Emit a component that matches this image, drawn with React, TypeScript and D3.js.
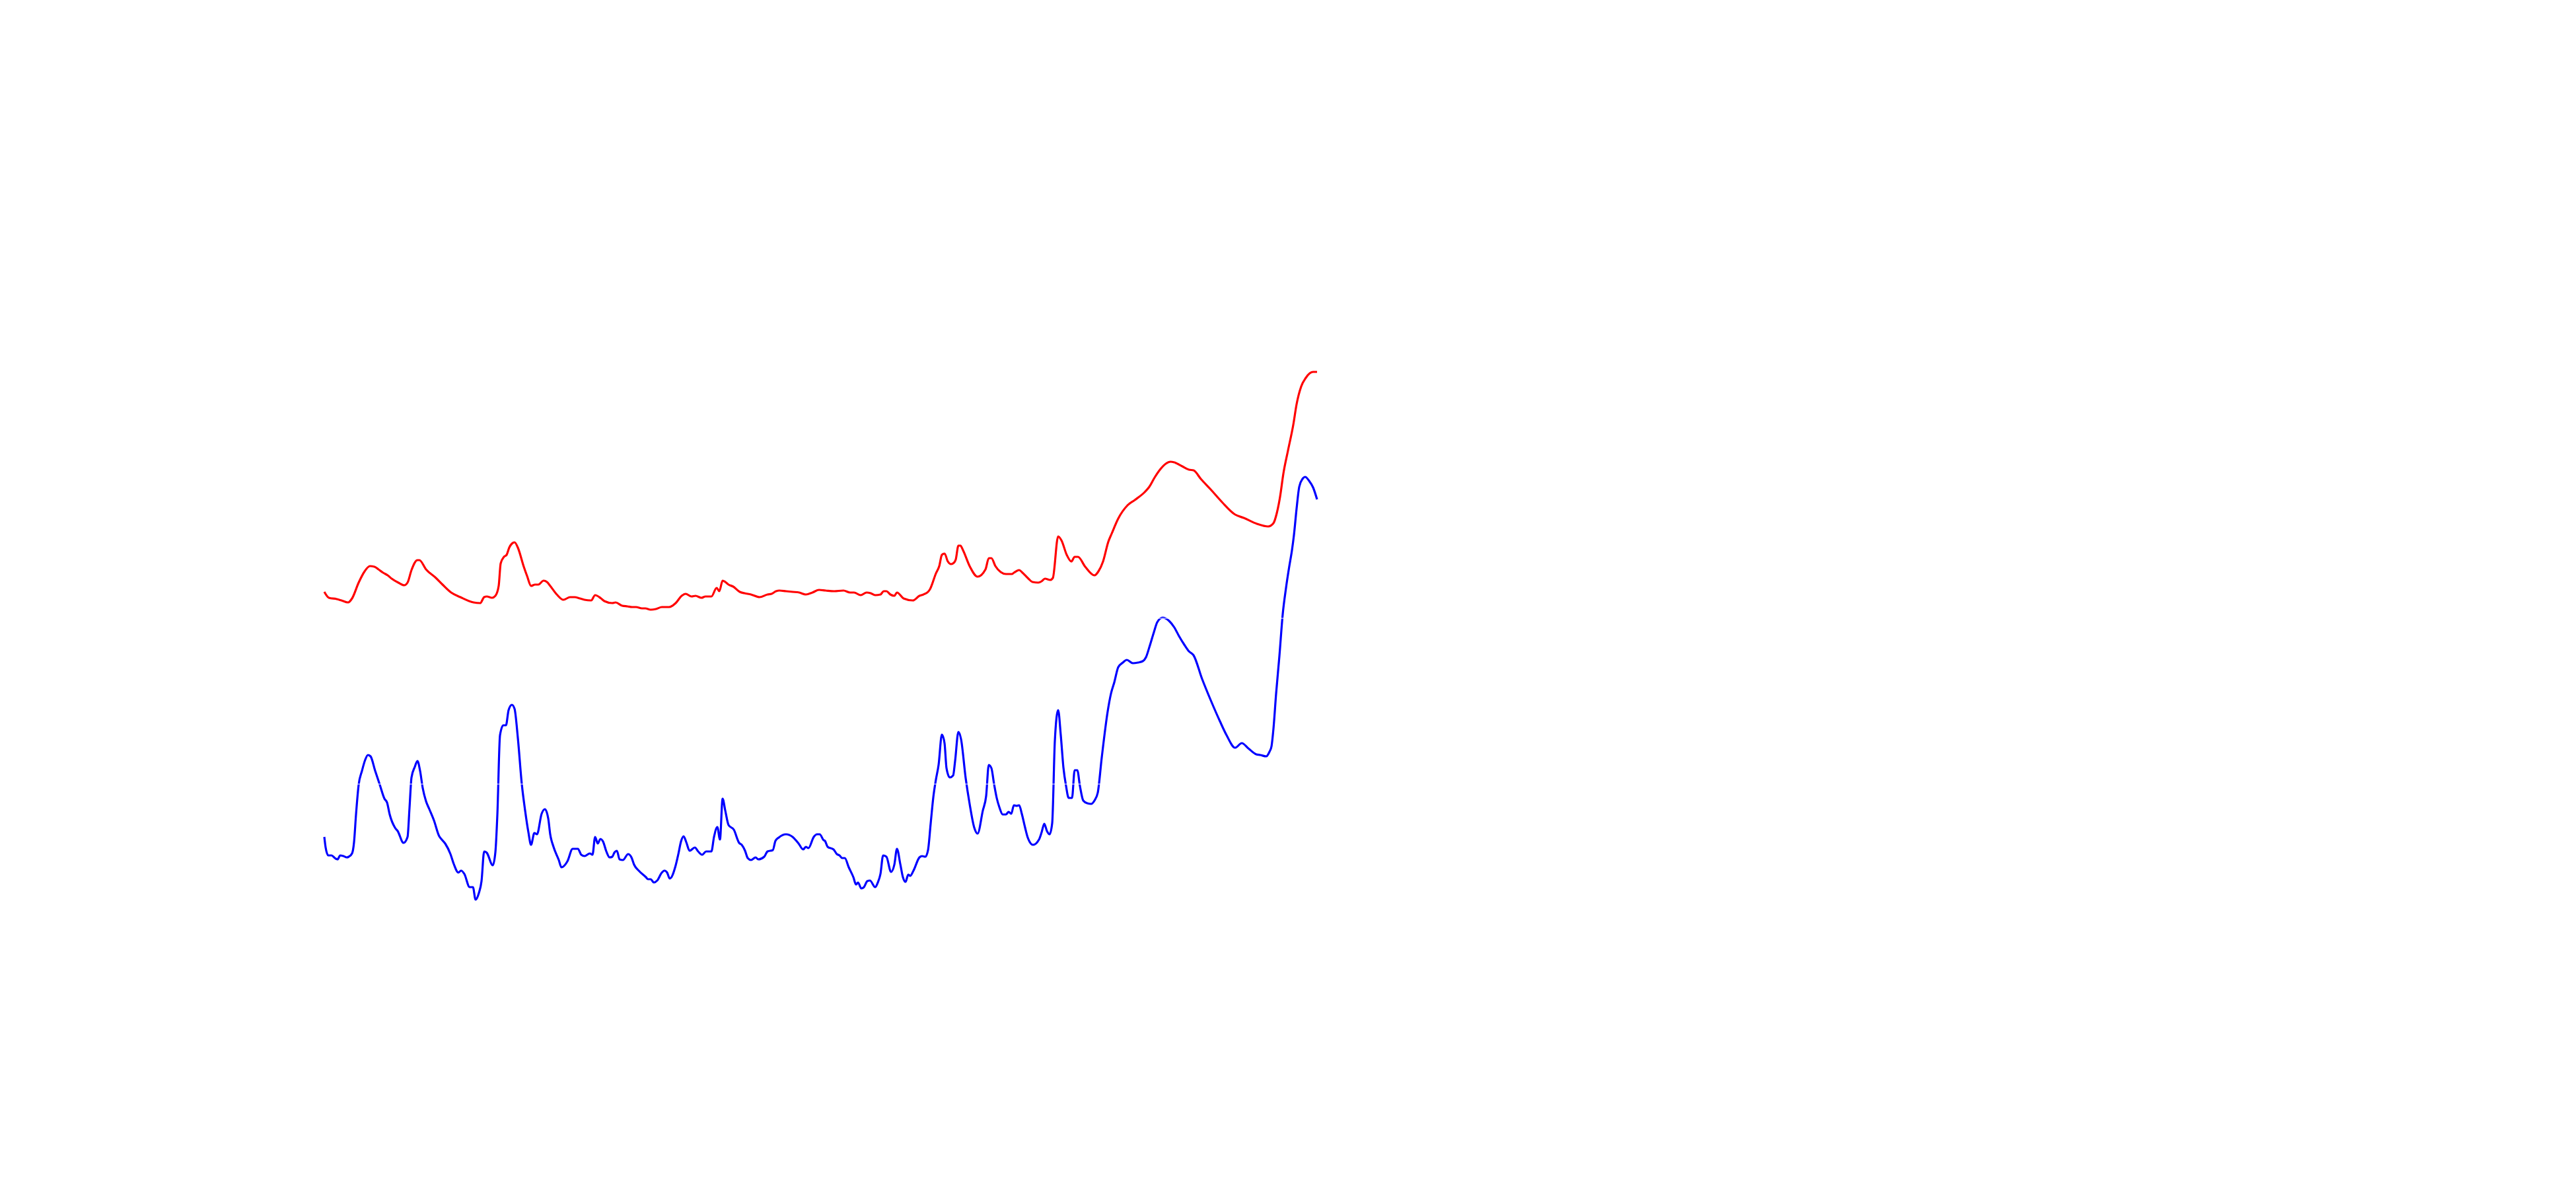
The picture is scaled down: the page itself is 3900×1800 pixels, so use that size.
import React from "react";
import * as d3 from "d3";

// Red series: [x, value]
const redSeries: [number, number][] = [
  [0, 60.4], [1.4, 59.5], [3.8, 59.3], [5.2, 59.1], [7.2, 58.8], [8.4, 59.4], [10.4, 61.8], [12.2, 63.5],
  [13.8, 64.3], [15.2, 64.2], [16.4, 63.8], [17.8, 63.3], [19.2, 62.9], [20.4, 62.4], [22.4, 61.8], [24.2, 61.4],
  [25.2, 61.8], [26.4, 63.7], [28.2, 65.2], [28.8, 65.2], [30.8, 63.8], [33.8, 62.5], [35.8, 61.5], [38.4, 60.3],
  [41.2, 59.6], [45.2, 58.8], [47.2, 58.7], [48.4, 59.6], [49.2, 59.7], [50.8, 59.5], [51.8, 59.8], [52.8, 61.3],
  [53.4, 64.7], [54.4, 65.7], [55.2, 66.0], [56.0, 67.1], [56.8, 67.7], [57.6, 67.9], [58.6, 67.1], [60.4, 64.2],
  [61.4, 62.8], [62.6, 61.3], [63.8, 61.5], [64.8, 61.5], [66.4, 62.1], [67.4, 61.9], [68.4, 61.3], [70.4, 60.0],
  [72.4, 59.2], [74.4, 59.6], [75.8, 59.6], [77.4, 59.4], [78.8, 59.2], [80.8, 59.1], [82.0, 59.9], [83.8, 59.4],
  [84.8, 59.0], [87.2, 58.7], [88.2, 58.8], [90.2, 58.3], [91.8, 58.2], [93.2, 58.1], [94.4, 58.1], [96.2, 57.9],
  [97.2, 57.9], [98.8, 57.7], [100.4, 57.8], [102.2, 58.1], [104.4, 58.1], [106.4, 58.7], [108.2, 59.8], [109.4, 60.1],
  [111.2, 59.7], [112.4, 59.8], [114.2, 59.5], [115.4, 59.7], [117.2, 59.7], [118.8, 61.0], [119.6, 60.5], [120.6, 62.1],
  [121.4, 61.9], [122.4, 61.5], [123.8, 61.2], [125.8, 60.4], [127.2, 60.2], [129.2, 60.0], [131.8, 59.6], [134.2, 60.0],
  [135.4, 60.1], [136.8, 60.5], [137.8, 60.6], [139.8, 60.5], [141.8, 60.4], [143.8, 60.3], [145.8, 60.0], [147.8, 60.3],
  [149.8, 60.7], [151.8, 60.6], [154.4, 60.5], [157.2, 60.6], [159.2, 60.3], [160.4, 60.3], [162.4, 59.9], [164.2, 60.3],
  [165.4, 60.2], [166.8, 59.9], [168.4, 60.0], [169.4, 60.5], [170.2, 60.5], [171.4, 60.0], [172.6, 59.8], [173.4, 60.3],
  [175.4, 59.4], [178.2, 59.1], [180.2, 59.8], [181.4, 60.0], [182.8, 60.4], [183.4, 60.8], [185.2, 63.2], [186.2, 64.3],
  [187.0, 66.0], [187.8, 66.2], [188.8, 65.0], [189.8, 64.6], [190.6, 64.8], [191.2, 65.3], [192.0, 67.4], [192.6, 67.4],
  [193.4, 66.7], [195.4, 64.3], [197.8, 62.7], [200.2, 63.8], [201.2, 65.5], [202.0, 65.5], [203.2, 64.3], [204.8, 63.4],
  [206.4, 63.1], [208.2, 63.1], [208.8, 63.3], [210.4, 63.7], [211.4, 63.3], [213.2, 62.4], [214.4, 61.9], [216.2, 61.8],
  [217.2, 62.0], [218.2, 62.4], [219.8, 62.2], [220.6, 62.5], [222.2, 68.8], [223.2, 68.2], [224.8, 66.0], [226.2, 65.0],
  [227.2, 65.7], [228.2, 65.7], [230.4, 64.2], [233.2, 62.9], [234.4, 63.5], [235.8, 65.0], [237.4, 68.0], [238.4, 69.2],
  [240.4, 71.5], [243.2, 73.5], [245.4, 74.3], [248.4, 75.5], [249.8, 76.3], [251.4, 77.7], [253.2, 79.0], [254.8, 79.8],
  [256.2, 80.1], [257.4, 80.0], [259.8, 79.4], [261.8, 78.9], [263.2, 78.8], [265.4, 77.5], [268.4, 75.9], [271.8, 74.0],
  [275.8, 72.1], [278.4, 71.6], [282.4, 70.7], [285.8, 70.3], [287.4, 70.8], [288.4, 72.3], [289.4, 74.8], [290.4, 78.3],
  [291.8, 81.8], [293.4, 85.7], [294.4, 88.8], [295.8, 91.5], [297.2, 92.8], [298.4, 93.5], [299.4, 93.7], [300.6, 93.7],
];

// Blue series: [x, value]
const blueSeries: [number, number][] = [
  [0, 23.3], [0.4, 21.7], [1.2, 20.5], [2.2, 20.5], [3.2, 20.1], [4.0, 19.9], [4.8, 20.5], [5.8, 20.4],
  [6.8, 20.2], [7.4, 20.3], [8.4, 20.8], [9.0, 22.5], [9.6, 26.7], [10.4, 31.2], [11.4, 33.3], [12.4, 35.0],
  [13.2, 35.7], [14.0, 35.5], [15.4, 33.3], [16.8, 31.2], [18.2, 29.1], [19.0, 28.5], [19.8, 26.7], [21.4, 24.7],
  [22.2, 24.2], [24.0, 22.4], [25.2, 23.3], [25.8, 27.7], [26.4, 32.3], [27.4, 33.9], [28.2, 34.8], [29.0, 33.3],
  [29.8, 30.7], [30.8, 28.7], [31.8, 27.5], [33.2, 25.8], [34.8, 23.4], [35.4, 23.0], [36.6, 22.3], [38.2, 20.7],
  [39.2, 19.2], [40.6, 17.9], [41.4, 18.2], [42.4, 17.7], [44.0, 15.7], [45.0, 15.7], [45.8, 13.8], [46.8, 14.8],
  [47.6, 16.6], [48.4, 21.1], [49.2, 20.9], [51.0, 19.0], [51.8, 21.0], [52.4, 26.7], [53.2, 38.7], [54.2, 40.2],
  [55.0, 40.2], [55.8, 42.5], [56.8, 43.3], [57.6, 42.7], [58.6, 38.3], [59.8, 31.3], [60.8, 27.3], [61.8, 24.0],
  [62.6, 22.1], [63.6, 23.9], [64.4, 23.7], [65.8, 26.8], [66.8, 27.5], [67.8, 26.1], [68.4, 23.7], [69.4, 21.8],
  [71.0, 19.8], [71.8, 18.7], [73.6, 19.6], [75.2, 21.5], [76.8, 21.5], [77.8, 20.6], [78.8, 20.4], [80.4, 20.8],
  [81.2, 20.6], [82.0, 23.3], [82.8, 22.3], [83.6, 23.0], [84.4, 22.6], [85.4, 21.1], [86.4, 20.2], [87.2, 20.3],
  [87.8, 20.9], [88.6, 21.2], [89.4, 19.9], [90.4, 19.8], [92.0, 20.7], [93.0, 20.2], [93.8, 19.1], [95.2, 18.2],
  [97.4, 17.2], [98.0, 16.9], [98.8, 16.9], [99.8, 16.4], [100.8, 16.7], [102.2, 17.9], [103.0, 18.2], [103.8, 17.9],
  [104.6, 17.0], [106.4, 19.0], [107.2, 20.7], [108.0, 22.6], [108.8, 23.4], [109.6, 22.5], [110.6, 21.2], [112.2, 21.7],
  [113.2, 21.1], [114.4, 20.6], [115.6, 21.1], [117.2, 21.1], [118.0, 23.3], [119.0, 24.8], [119.8, 22.9], [120.6, 29.1],
  [121.4, 27.3], [122.4, 25.1], [124.0, 24.4], [125.6, 22.4], [126.4, 22.1], [127.4, 21.2], [128.2, 20.1], [129.2, 19.8],
  [130.6, 20.2], [131.4, 19.9], [133.2, 20.3], [134.2, 21.1], [135.8, 21.3], [136.6, 22.7], [137.6, 23.2], [139.8, 23.7],
  [141.8, 23.3], [143.6, 22.3], [145.0, 21.4], [145.8, 21.8], [146.6, 21.6], [148.2, 23.3], [149.2, 23.7], [150.0, 23.7],
  [151.2, 22.8], [151.6, 22.7], [152.4, 21.8], [154.2, 21.4], [155.2, 20.7], [156.0, 20.5], [156.8, 20.1], [157.6, 20.1],
  [158.8, 18.7], [160.2, 17.2], [161.0, 16.1], [161.6, 16.4], [162.6, 15.5], [163.4, 15.7], [164.4, 16.6], [165.2, 16.7],
  [166.8, 15.7], [167.6, 16.4], [168.4, 17.7], [169.2, 20.5], [170.2, 20.3], [171.6, 18.0], [172.6, 19.1], [173.4, 21.5],
  [174.4, 19.2], [175.2, 17.2], [176.0, 16.5], [176.8, 17.6], [177.4, 17.4], [178.4, 18.2], [180.2, 20.2], [181.0, 20.4],
  [182.0, 20.3], [182.8, 21.3], [183.6, 25.3], [184.4, 29.3], [185.2, 32.0], [186.0, 34.2], [187.0, 38.8], [187.8, 37.5],
  [188.4, 33.7], [189.4, 32.3], [190.4, 32.6], [191.0, 34.8], [192.0, 39.2], [192.8, 38.1], [194.2, 32.2], [195.4, 28.3],
  [196.8, 24.7], [197.8, 23.8], [199.4, 27.3], [200.4, 29.5], [201.2, 34.2], [202.0, 33.7], [202.8, 31.3], [203.6, 29.2],
  [204.4, 27.8], [205.4, 26.7], [206.4, 26.7], [207.2, 27.1], [208.0, 26.8], [208.8, 28.1], [209.6, 28.0], [210.4, 28.1],
  [211.2, 26.8], [212.2, 24.7], [213.0, 23.2], [214.6, 22.1], [216.4, 22.9], [217.2, 24.0], [218.0, 25.3], [218.8, 24.2],
  [219.6, 23.7], [220.4, 25.4], [221.2, 37.8], [222.2, 42.5], [223.0, 38.7], [223.8, 33.8], [224.6, 31.0], [225.4, 29.2],
  [226.4, 29.2], [227.2, 33.4], [228.0, 33.4], [228.8, 31.0], [229.8, 28.8], [231.0, 28.4], [232.2, 28.3], [233.2, 28.8],
  [234.2, 30.0], [235.4, 35.3], [237.2, 42.3], [238.2, 45.0], [239.2, 46.7], [240.4, 49.0], [241.8, 49.7], [243.0, 50.1],
  [244.8, 49.6], [246.4, 49.7], [247.8, 49.9], [248.8, 50.5], [249.8, 52.0], [251.2, 54.3], [252.2, 55.8], [253.8, 56.5],
  [255.8, 56.0], [257.4, 55.0], [258.8, 53.7], [260.4, 52.4], [261.8, 51.4], [263.2, 50.8], [265.8, 47.2], [268.4, 44.0],
  [271.2, 40.8], [273.2, 38.7], [275.8, 36.8], [277.8, 37.5], [279.8, 36.7], [282.2, 35.8], [283.4, 35.7], [285.2, 35.5],
  [286.2, 36.2], [286.8, 37.0], [287.4, 39.7], [288.2, 45.0], [289.2, 50.7], [290.2, 57.0], [291.2, 61.0], [292.2, 64.3],
  [293.0, 66.7], [293.6, 69.0], [294.4, 73.0], [295.2, 76.3], [296.2, 77.5], [297.0, 77.8], [298.2, 77.2], [299.4, 76.2],
  [300.6, 74.4],
];

// Faint (white) horizontal grid values
const gridValues: number[] = [31.3, 56.4];

const WIDTH = 3900;
const HEIGHT = 1800;

export default function App() {
  const x = d3.scaleLinear().domain([0, 300]).range([491, 1991]);
  const y = d3.scaleLinear().domain([0, 100]).range([1500, 500]);

  const line = d3
    .line<[number, number]>()
    .x((d) => x(d[0]))
    .y((d) => y(d[1]))
    .curve(d3.curveMonotoneX);

  return (
    <svg
      width={WIDTH}
      height={HEIGHT}
      style={{ position: "absolute", left: 0, top: 0, background: "#ffffff" }}
    >
      <rect x={0} y={0} width={WIDTH} height={HEIGHT} fill="#ffffff" />
      <path d={line(redSeries) || ""} fill="none" stroke="#ff0000" strokeWidth={3.2} strokeLinejoin="round" />
      <path d={line(blueSeries) || ""} fill="none" stroke="#0000ff" strokeWidth={3.2} strokeLinejoin="round" />
      {gridValues.map((g) => (
        <line
          key={g}
          x1={x(0)}
          x2={x(300.6)}
          y1={y(g)}
          y2={y(g)}
          stroke="#ffffff"
          strokeWidth={1}
        />
      ))}
    </svg>
  );
}
